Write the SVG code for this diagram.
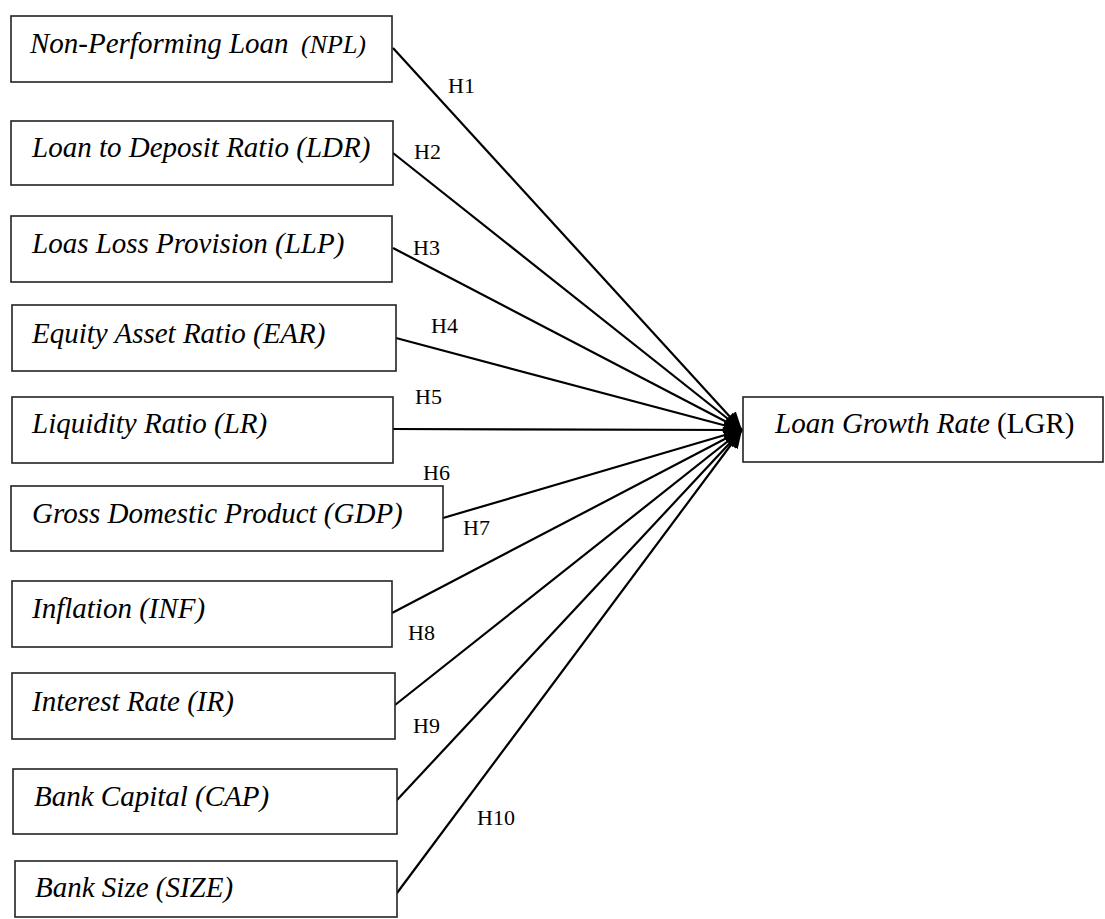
<svg xmlns="http://www.w3.org/2000/svg" width="1105" height="919" viewBox="0 0 1105 919">
<style>
.box{fill:#fff;stroke:#222;stroke-width:1.6}
.t{font-family:"Liberation Serif","Times New Roman",serif;font-size:29px;font-style:italic;fill:#000}
.h{font-family:"Liberation Serif","Times New Roman",serif;font-size:22px;fill:#000}
.c{stroke:#000;stroke-width:2.2;fill:none;marker-end:url(#ah)}
</style>
<defs>
<marker id="ah" markerUnits="userSpaceOnUse" markerWidth="19" markerHeight="16" refX="18" refY="8" orient="auto">
<path d="M0,0 L18,8 L0,16 Z" fill="#000"/>
</marker>
</defs>
<g id="connectors">
<line class="c" x1="393" y1="48" x2="742" y2="430"/>
<line class="c" x1="393" y1="153" x2="742" y2="430"/>
<line class="c" x1="393" y1="248" x2="742" y2="430"/>
<line class="c" x1="396" y1="338" x2="742" y2="430"/>
<line class="c" x1="393" y1="429" x2="742" y2="430"/>
<line class="c" x1="443" y1="518" x2="742" y2="430"/>
<line class="c" x1="392" y1="613" x2="742" y2="430"/>
<line class="c" x1="395" y1="705" x2="742" y2="430"/>
<line class="c" x1="397" y1="800" x2="742" y2="430"/>
<line class="c" x1="397" y1="893" x2="742" y2="430"/>
</g>
<g id="labels">
<text class="h" x="448" y="93">H1</text>
<text class="h" x="414" y="159">H2</text>
<text class="h" x="413" y="255">H3</text>
<text class="h" x="431" y="333">H4</text>
<text class="h" x="415" y="404">H5</text>
<text class="h" x="423" y="480">H6</text>
<text class="h" x="463" y="535">H7</text>
<text class="h" x="408" y="640">H8</text>
<text class="h" x="413" y="733">H9</text>
<text class="h" x="477" y="825">H10</text>
</g>
<g id="npl"><rect class="box" x="11" y="16" width="381" height="66"/><text class="t" x="30" y="53">Non-Performing Loan <tspan x="301" font-size="26">(NPL)</tspan></text></g>
<g id="ldr"><rect class="box" x="11" y="121" width="382" height="64"/><text class="t" x="32" y="157">Loan to Deposit Ratio (LDR)</text></g>
<g id="llp"><rect class="box" x="11" y="216" width="381" height="66"/><text class="t" x="32" y="253">Loas Loss Provision (LLP)</text></g>
<g id="ear"><rect class="box" x="12" y="305" width="384" height="66"/><text class="t" x="32" y="343">Equity Asset Ratio (EAR)</text></g>
<g id="lr"><rect class="box" x="12" y="397" width="381" height="66"/><text class="t" x="32" y="433">Liquidity Ratio (LR)</text></g>
<g id="gdp"><rect class="box" x="11" y="486" width="432" height="65"/><text class="t" x="32" y="523">Gross Domestic Product (GDP)</text></g>
<g id="inf"><rect class="box" x="12" y="581" width="380" height="66"/><text class="t" x="32" y="618">Inflation (INF)</text></g>
<g id="ir"><rect class="box" x="12" y="673" width="383" height="66"/><text class="t" x="32" y="711">Interest Rate (IR)</text></g>
<g id="cap"><rect class="box" x="13" y="769" width="384" height="65"/><text class="t" x="34" y="806">Bank Capital (CAP)</text></g>
<g id="size"><rect class="box" x="15" y="861" width="382" height="56"/><text class="t" x="35" y="897">Bank Size (SIZE)</text></g>
<g id="lgr"><rect class="box" x="743" y="397" width="360" height="65"/><text class="t" x="775" y="433">Loan Growth Rate <tspan font-style="normal">(LGR)</tspan></text></g>
</svg>
